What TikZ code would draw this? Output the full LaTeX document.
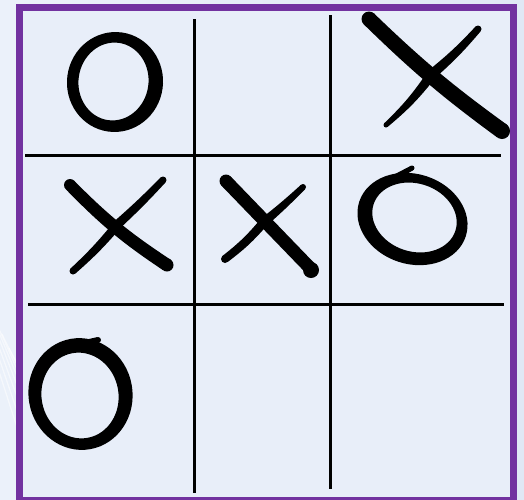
\documentclass[tikz,border=0pt]{standalone}
\usetikzlibrary{calc}
\definecolor{bgA}{HTML}{EBF1FA}
\definecolor{bgB}{HTML}{E0E8F5}
\definecolor{bgIn}{HTML}{E8EEF9}
\definecolor{framecol}{HTML}{7232A0}
\tikzset{
  ink/.style={fill=black},
  gridline/.style={line width=3pt, draw=black},
  frameline/.style={draw=framecol, line width=7pt},
  streak/.style={draw=white, line width=1.2pt, opacity=0.55},
}
% tapered brush stroke: start, end, half width at start, half width at end, bend
\newcommand{\brush}[5]{%
  \fill[ink] ($#1!#3!90:#2$) to[bend left=#5] ($#2!#4!-90:#1$) -- ($#2!#4!90:#1$) to[bend right=#5] ($#1!#3!-90:#2$) -- cycle;
  \fill[ink] #1 circle (#3);
  \fill[ink] #2 circle (#4);
}
\begin{document}
\begin{tikzpicture}[x=1pt,y=-1pt]
\useasboundingbox (0,0) rectangle (524,499);
\clip (0,0) rectangle (524,499);
% background
\shade[left color=bgA, right color=bgB] (0,0) rectangle (524,499);
% streaks bottom-left
\foreach \s in {0,7,14,21,28,35,42,49,56}{
  \draw[streak] (-40+\s,250+\s*2) -- (40+\s,499);
}
\fill[bgIn] (19,7.5) rectangle (513.5,500.5);
\draw[frameline] (19,7.5) rectangle (513.5,500.5);
% grid
\draw[gridline] (194,19) -- (194,493);
\draw[gridline] (330,15) -- (330,489);
\draw[gridline] (25,155) -- (501,155);
\draw[gridline] (28,304) -- (504,304);
% top-left O
\fill[ink, even odd rule]
  (115,82) circle[x radius=48pt, y radius=50pt, rotate=-8]
  (113.5,81.5) circle[x radius=35pt, y radius=39pt, rotate=-8];
% top-right X
\brush{(369,19)}{(502,131)}{7.5pt}{8pt}{-4}
\brush{(478,29)}{(432,74)}{3.5pt}{5pt}{4}
\brush{(432,74)}{(386,125)}{5pt}{2.5pt}{6}
% middle-left X
\brush{(70,185)}{(167,265)}{6pt}{6.5pt}{-6}
\brush{(163,180)}{(118,224)}{3.5pt}{4.5pt}{2}
\brush{(118,224)}{(73,271)}{4.5pt}{3.5pt}{4}
% middle-centre X
\brush{(226,181)}{(311,269)}{6.5pt}{6.5pt}{0}
\fill[ink] (311,270) circle (8pt);
\brush{(303,187)}{(264,222)}{3pt}{4.5pt}{2}
\brush{(264,222)}{(225,259)}{4.5pt}{4pt}{6}
% middle-right O
\fill[ink, even odd rule]
  (412.5,219) circle[x radius=56pt, y radius=45pt, rotate=-18]
  (414.5,217.5) circle[x radius=43pt, y radius=34pt, rotate=-18];
\brush{(412,168)}{(392,179)}{2.5pt}{3pt}{0}
% bottom-left O
\fill[ink, even odd rule]
  (80.5,394) circle[x radius=52pt, y radius=56pt, rotate=10]
  (80,395.5) circle[x radius=38.5pt, y radius=43pt, rotate=10];
\brush{(98,340)}{(76,346)}{3pt}{4pt}{0}
\end{tikzpicture}
\end{document}
